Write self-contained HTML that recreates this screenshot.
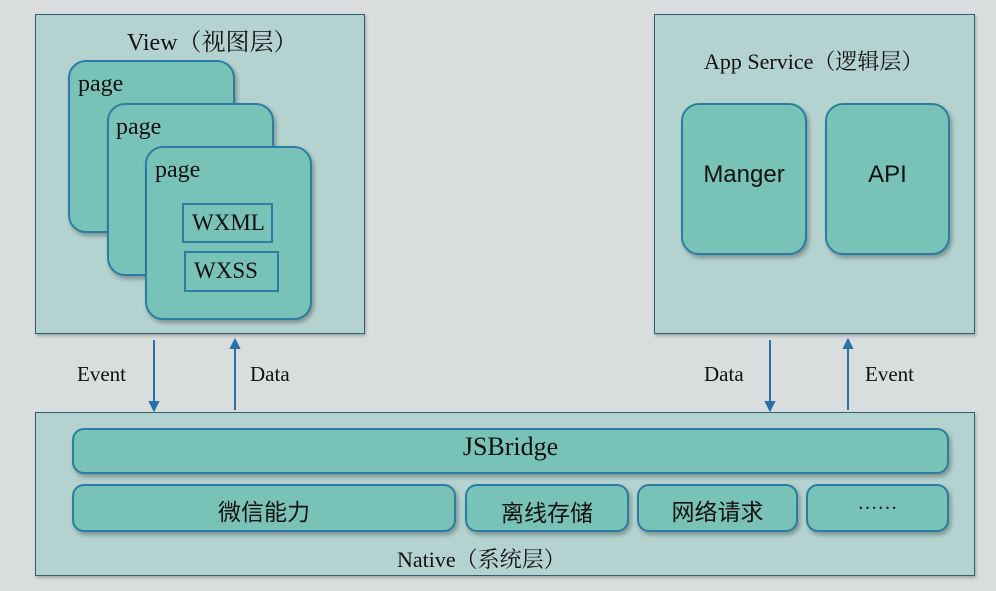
<!DOCTYPE html>
<html><head><meta charset="utf-8"><style>
body{margin:0;width:996px;height:591px;background:#d9dddd;position:relative;overflow:hidden;font-family:"Liberation Serif","Noto Serif CJK SC",serif;color:#111}
.a{position:absolute;box-sizing:border-box}
.panel{background:#b4d2cf;border:1.5px solid #2f5f74;box-shadow:1px 2px 3px rgba(0,0,0,.25)}
.box{background:#78c2b8;border:2px solid #2a7ea2;border-radius:18px;box-shadow:2px 3px 4px rgba(0,0,0,.3)}
.rect{border:2px solid #2a7ea2;background:#78c2b8;font-size:23px;padding-left:8px;line-height:36px}
.t{position:absolute;white-space:nowrap}
.cn{font-family:"Liberation Sans","Noto Sans CJK SC",sans-serif}
</style></head><body>
<div class="a panel" style="left:35px;top:14px;width:330px;height:320px"></div>
<div class="t" style="left:127px;top:22px;font-size:24px">View（视图层）</div>
<div class="a box" style="left:68px;top:60px;width:167px;height:173px"></div>
<div class="t" style="left:78px;top:71px;font-size:24px">page</div>
<div class="a box" style="left:107px;top:103px;width:167px;height:173px"></div>
<div class="t" style="left:116px;top:114px;font-size:24px">page</div>
<div class="a box" style="left:145px;top:146px;width:167px;height:174px"></div>
<div class="t" style="left:155px;top:157px;font-size:24px">page</div>
<div class="a rect" style="left:182px;top:203px;width:91px;height:40px">WXML</div>
<div class="a rect" style="left:184px;top:251px;width:95px;height:41px">WXSS</div>

<div class="a panel" style="left:654px;top:14px;width:321px;height:320px"></div>
<div class="t" style="left:704px;top:45px;font-size:22px">App Service（逻辑层）</div>
<div class="a box" style="left:681px;top:103px;width:126px;height:152px"></div>
<div class="t cn" style="left:681px;width:126px;text-align:center;top:161px;font-size:24px">Manger</div>
<div class="a box" style="left:825px;top:103px;width:125px;height:152px"></div>
<div class="t cn" style="left:825px;width:125px;text-align:center;top:161px;font-size:24px">API</div>

<svg class="a" style="left:0;top:0" width="996" height="591">
<g stroke="#2a6fa8" stroke-width="2" fill="#2a6fa8">
<line x1="154" y1="340" x2="154" y2="404"/><polygon points="150,402 158,402 154,410"/>
<line x1="235" y1="346" x2="235" y2="410"/><polygon points="231,348 239,348 235,340"/>
<line x1="770" y1="340" x2="770" y2="404"/><polygon points="766,402 774,402 770,410"/>
<line x1="848" y1="346" x2="848" y2="410"/><polygon points="844,348 852,348 848,340"/>
</g></svg>
<div class="t" style="left:77px;top:362px;font-size:21px">Event</div>
<div class="t" style="left:250px;top:362px;font-size:21px">Data</div>
<div class="t" style="left:704px;top:362px;font-size:21px">Data</div>
<div class="t" style="left:865px;top:362px;font-size:21px">Event</div>

<div class="a panel" style="left:35px;top:412px;width:940px;height:164px"></div>
<div class="a box" style="left:72px;top:428px;width:877px;height:46px;border-radius:12px"></div>
<div class="t" style="left:72px;width:877px;text-align:center;top:432px;font-size:26px">JSBridge</div>
<div class="a box" style="left:72px;top:484px;width:384px;height:48px;border-radius:12px"></div>
<div class="t cn" style="left:72px;width:384px;text-align:center;top:493px;font-size:23px">微信能力</div>
<div class="a box" style="left:465px;top:484px;width:164px;height:48px;border-radius:12px"></div>
<div class="t cn" style="left:465px;width:164px;text-align:center;top:494px;font-size:23px">离线存储</div>
<div class="a box" style="left:637px;top:484px;width:161px;height:48px;border-radius:12px"></div>
<div class="t cn" style="left:637px;width:161px;text-align:center;top:493px;font-size:23px">网络请求</div>
<div class="a box" style="left:806px;top:484px;width:143px;height:48px;border-radius:12px"></div>
<div class="t" style="left:806px;width:143px;text-align:center;top:492px;font-size:20px">……</div>
<div class="t" style="left:397px;top:543px;font-size:22px">Native（系统层）</div>
</body></html>
